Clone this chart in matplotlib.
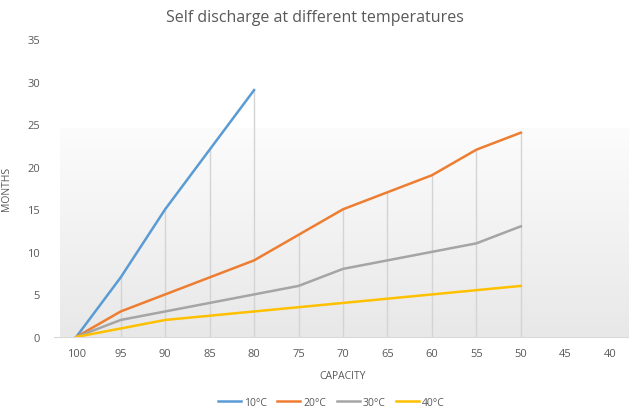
import matplotlib
matplotlib.use("Agg")
import matplotlib.pyplot as plt
import numpy as np

plt.rcParams["font.family"] = ["Open Sans", "DejaVu Sans"]

capacity = ["100", "95", "90", "85", "80", "75", "70", "65", "60", "55", "50", "45", "40"]
t10 = [0, 7, 15, 22, 29]
t20 = [0, 3, 5, 7, 9, 12, 15, 17, 19, 22, 24]
t30 = [0, 2, 3, 4, 5, 6, 8, 9, 10, 11, 13]
t40 = [0, 1, 2, 2.5, 3, 3.5, 4, 4.5, 5, 5.5, 6]

SERIES = [
    ("10°C", t10, "#5B9BD5"),
    ("20°C", t20, "#ED7D31"),
    ("30°C", t30, "#A5A5A5"),
    ("40°C", t40, "#FFC000"),
]

TXT = "#595959"

fig = plt.figure(figsize=(6.29, 4.10), dpi=100)
ax = fig.add_axes([54 / 629, 72 / 410, 578 / 629, 298 / 410])

# soft gradient backdrop in the lower part of the plot area (white at top, grey at bottom)
grad = np.linspace(0.0, 1.0, 256).reshape(-1, 1)
ax.imshow(grad, extent=(0.01, 1.0, 0.0, 0.7), transform=ax.transAxes,
          cmap=matplotlib.colors.LinearSegmentedColormap.from_list("g", ["#fcfcfc", "#e8e8e8"]),
          aspect="auto", zorder=0)

# drop lines from the highest point at each category
n = max(len(s[1]) for s in SERIES)
for i in range(n):
    top = max(s[1][i] for s in SERIES if i < len(s[1]))
    if top > 0:
        ax.plot([i, i], [0, top], color="#d4d4d4", lw=1.0, zorder=1)

for label, vals, color in SERIES:
    ax.plot(range(len(vals)), vals, color=color, lw=1.8, label=label, zorder=3)

ax.set_xlim(-0.5, len(capacity) - 0.5)
ax.set_ylim(0, 35)
ax.set_xticks(range(len(capacity)))
ax.set_xticklabels(capacity)
ax.set_yticks(range(0, 36, 5))
ax.tick_params(axis="x", length=0, labelsize=8, colors=TXT, pad=8)
ax.tick_params(axis="y", length=0, labelsize=8, colors=TXT, pad=10)

for side in ["top", "right", "left"]:
    ax.spines[side].set_visible(False)
ax.spines["bottom"].set_color("#d9d9d9")
ax.set_facecolor("none")

ax.set_xlabel("CAPACITY", fontsize=7.5, color=TXT, labelpad=8)
ax.set_ylabel("MONTHS", fontsize=7.5, color=TXT)
ax.yaxis.set_label_coords(-0.073, 0.5)
fig.text(0.5, 0.955, "Self discharge at different temperatures", ha="center", va="center",
         fontsize=11.5, color=TXT)

ax.legend(loc="upper center", bbox_to_anchor=(0.48, -0.17), ncol=4, frameon=False,
          fontsize=7.5, labelcolor=TXT, handlelength=2.2, handletextpad=0.3, columnspacing=1.0)

fig.savefig("out.png", dpi=100)
